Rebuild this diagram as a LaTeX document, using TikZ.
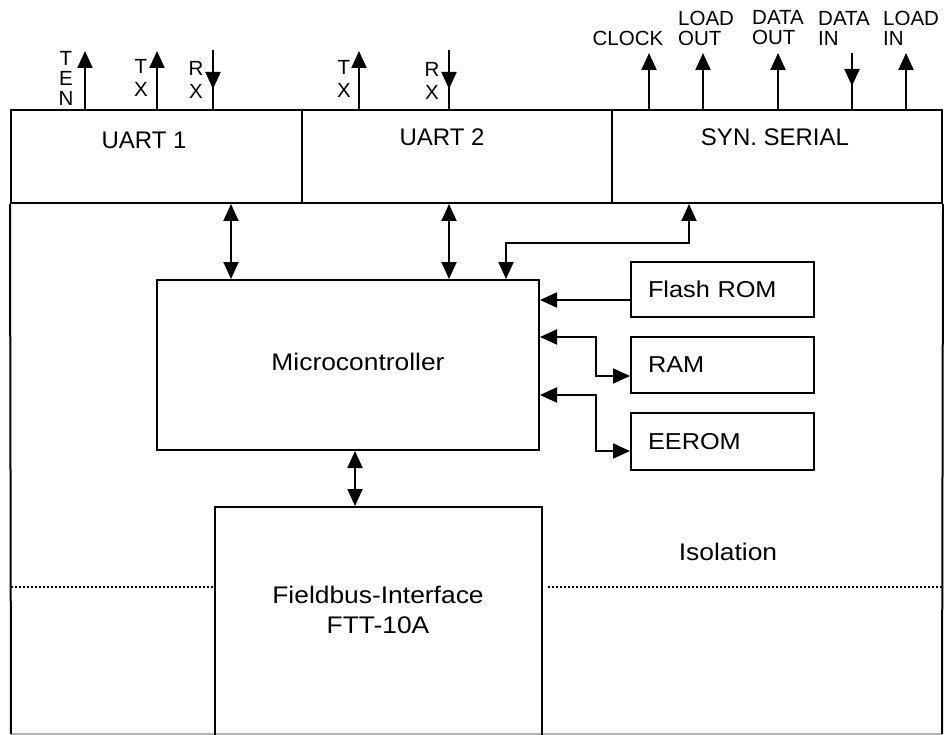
\documentclass[tikz,border=0pt]{standalone}
\usepackage{fontspec}
\setmainfont{Liberation Sans}
\newfontfamily\wideF{Liberation Sans}[FakeStretch=1.1]
\usetikzlibrary{arrows.meta}
\begin{document}
\begin{tikzpicture}[x=1pt,y=-1pt,
  box/.style={draw,line width=2pt,rectangle,inner sep=0pt},
  ln/.style={line width=2pt},
  arr/.style={ln,-{Triangle[width=15pt,length=17pt]}},
  darr/.style={ln,{Triangle[width=15pt,length=17pt]}-{Triangle[width=15pt,length=17pt]}},
  big/.style={font=\fontsize{24}{30}\selectfont, inner sep=0pt},
  wbig/.style={font=\wideF\fontsize{24}{30}\selectfont, inner sep=0pt},
  small/.style={font=\fontsize{20.5}{20}\selectfont, inner sep=0pt, align=center},
  smallx/.style={font=\fontsize{20.5}{23}\selectfont, inner sep=0pt, align=center},
  memstyle/.style={box, minimum width=183pt, text width=149pt, inner xsep=17pt, align=left, font=\wideF\fontsize{23}{28}\selectfont},
  dotl/.style={line width=1.3pt, dash pattern=on 2pt off 2pt}]

\fill[white] (0,0) rectangle (944,735);
\useasboundingbox (0,0) rectangle (944,735);

% top row boxes
\node[box, minimum width=291pt, minimum height=93pt] (uart1) at (156.5,156.5) {};
\node[box, minimum width=310pt, minimum height=93pt] (uart2) at (457,156.5) {};
\node[box, minimum width=330pt, minimum height=93pt] (syn) at (777,156.5) {};

% outer body
\coordinate (bl) at (11,734);
\coordinate (br) at (942,734);
\draw[line width=1.5pt, black!30] (bl) -- (br);
\draw[ln] (uart1.south west) -- (bl);
\draw[ln] (syn.south east) -- (br);

% inner boxes
\node[box, minimum width=382pt, minimum height=170pt] (mc) at (348,365) {};
\node[memstyle, minimum height=55pt] (flash) at (722.5,289.5) {Flash ROM};
\node[memstyle, minimum height=56pt] (ram) at (722.5,365) {RAM};
\node[memstyle, minimum height=57pt] (eerom) at (722.5,441.5) {EEROM};
\node[box, minimum width=327pt, minimum height=238pt] (fb) at (378.5,626) {};

% texts
\node[big] (t1) at (144,140) {UART 1};
\node[big] (t2) at (442,137) {UART 2};
\node[big] (t3) at (775,137) {SYN. SERIAL};
\node[wbig] (tmc) at (358,362) {Microcontroller};
\node[wbig, align=center] (tfb) at (378,610) {Fieldbus-Interface\\FTT-10A};
\node[wbig] (tiso) at (728,552) {Isolation};

% small labels
\node[small] (lten) at (66,78) {T\\E\\N};
\node[smallx] (ltx1) at (141,78) {T\\X};
\node[smallx] (lrx1) at (196,80) {R\\X};
\node[smallx] (ltx2) at (344,79) {T\\X};
\node[smallx] (lrx2) at (432,81) {R\\X};
\node[small] (lclk) at (628,38) {CLOCK};
\node[small, anchor=west, align=left] (llo) at (678,28) {LOAD\\OUT};
\node[small, anchor=west, align=left] (ldo) at (752,28) {DATA\\OUT};
\node[small, anchor=west, align=left] (ldi) at (818,28) {DATA\\IN};
\node[small, anchor=west, align=left] (lli) at (883,28) {LOAD\\IN};

% top signal ends
\coordinate (cten) at (85,51);
\coordinate (ctx1) at (157,51);
\coordinate (crx1) at (213,50);
\coordinate (crx1m) at (213,89);
\coordinate (ctx2) at (359,51);
\coordinate (crx2) at (449,50);
\coordinate (crx2m) at (449,89);
\coordinate (cclk) at (649,53);
\coordinate (clo) at (703,53);
\coordinate (cdo) at (778,53);
\coordinate (cdi) at (852,53);
\coordinate (cdim) at (852,86);
\coordinate (cli) at (906,53);

\draw[arr] (cten |- uart1.north) -- (cten);
\draw[arr] (ctx1 |- uart1.north) -- (ctx1);
\draw[ln] (crx1) -- (crx1 |- uart1.north);
\draw[arr] (crx1) -- (crx1m);
\draw[arr] (ctx2 |- uart2.north) -- (ctx2);
\draw[ln] (crx2) -- (crx2 |- uart2.north);
\draw[arr] (crx2) -- (crx2m);
\draw[arr] (cclk |- syn.north) -- (cclk);
\draw[arr] (clo |- syn.north) -- (clo);
\draw[arr] (cdo |- syn.north) -- (cdo);
\draw[ln] (cdi) -- (cdi |- syn.north);
\draw[arr] (cdi) -- (cdim);
\draw[arr] (cli |- syn.north) -- (cli);

% bus connectors
\coordinate (b1) at (231,0);
\coordinate (b2) at (449,0);
\coordinate (b3) at (506,243);
\coordinate (b3r) at (689,243);
\draw[darr] (b1 |- uart1.south) -- (b1 |- mc.north);
\draw[darr] (b2 |- uart2.south) -- (b2 |- mc.north);
\draw[darr] (b3 |- mc.north) -- (b3) -- (b3r) -- (b3r |- syn.south);

\coordinate (rj) at (596,337);
\coordinate (rb) at (596,376);
\coordinate (ej) at (596,395);
\coordinate (eb) at (596,451);
\draw[arr] (flash.west) ++(0,10.5) coordinate (fw) -- (fw -| mc.east);
\draw[darr] (mc.east |- rj) -- (rj) -- (rb) -- (rb -| ram.west);
\draw[darr] (mc.east |- ej) -- (ej) -- (eb) -- (eb -| eerom.west);

\coordinate (m1) at (355,0);
\draw[darr] (m1 |- mc.south) -- (m1 |- fb.north);

% isolation dotted line
\coordinate (dl) at (11,587);
\coordinate (dr) at (942,587);
\coordinate (dlm) at (213,587);
\coordinate (drm) at (548,587);
\draw[dotl] (dl) -- (dlm);
\draw[dotl] (drm) -- (dr);
\end{tikzpicture}
\end{document}
